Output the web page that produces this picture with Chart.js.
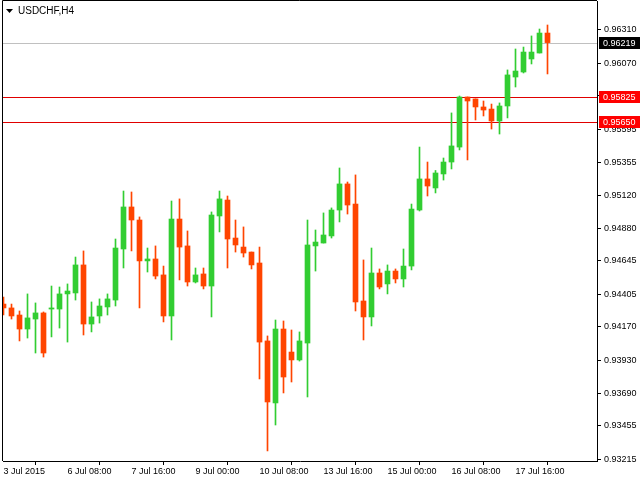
<!DOCTYPE html>
<html>
<head>
<meta charset="utf-8">
<script src="https://cdn.jsdelivr.net/npm/chart.js@4.4.0/dist/chart.umd.min.js"></script>
<style>
  html, body { margin: 0; padding: 0; background: #fff; }
</style>
</head>
<body>
<canvas id="chart" width="640" height="480"></canvas>
<script>
const symbolTitle = 'USDCHF,H4';

// H4 candles, oldest first
const opens = [
  0.94334, 0.94306, 0.94255, 0.94154, 0.94226, 0.94270, 0.94298, 0.94298, 0.94407, 0.94414,
  0.94616, 0.94190, 0.94248, 0.94313, 0.94363, 0.94731, 0.95034, 0.94940, 0.94645, 0.94659,
  0.94544, 0.94248, 0.94947, 0.94753, 0.94493, 0.94551, 0.94464, 0.94969, 0.95084, 0.94810,
  0.94745, 0.94709, 0.94630, 0.94068, 0.93621, 0.94154, 0.93988, 0.93931, 0.94053, 0.94753,
  0.94774, 0.94825, 0.95012, 0.95200, 0.95055, 0.94356, 0.94241, 0.94558, 0.94479, 0.94572,
  0.94515, 0.94608, 0.95012, 0.95236, 0.95171, 0.95272, 0.95358, 0.95466, 0.95827, 0.95813,
  0.95755, 0.95740, 0.95654, 0.95762, 0.95971, 0.96007, 0.96101, 0.96144, 0.96288
];
const highs = [
  0.94385, 0.94334, 0.94284, 0.94407, 0.94342, 0.94277, 0.94464, 0.94457, 0.94479, 0.94673,
  0.94717, 0.94349, 0.94371, 0.94407, 0.94803, 0.95149, 0.95142, 0.94962, 0.94738, 0.94753,
  0.94608, 0.95077, 0.95092, 0.94861, 0.94594, 0.94594, 0.94998, 0.95149, 0.95113, 0.94940,
  0.94890, 0.94709, 0.94745, 0.94104, 0.94219, 0.94212, 0.94147, 0.94133, 0.94940, 0.94868,
  0.94991, 0.95027, 0.95315, 0.95214, 0.95265, 0.94652, 0.94738, 0.94587, 0.94616, 0.94587,
  0.94731, 0.95055, 0.95466, 0.95358, 0.95297, 0.95387, 0.95712, 0.95834, 0.95827, 0.95813,
  0.95798, 0.95776, 0.95784, 0.96022, 0.96173, 0.96187, 0.96267, 0.96317, 0.96346
];
const lows = [
  0.94255, 0.94226, 0.94068, 0.94089, 0.93981, 0.93952, 0.94097, 0.94161, 0.94060, 0.94363,
  0.94111, 0.94133, 0.94197, 0.94255, 0.94320, 0.94594, 0.94717, 0.94306, 0.94565, 0.94515,
  0.94205, 0.94075, 0.94508, 0.94464, 0.94486, 0.94443, 0.94241, 0.94854, 0.94594, 0.94709,
  0.94673, 0.94587, 0.93794, 0.93275, 0.93462, 0.93693, 0.93772, 0.93923, 0.93664, 0.94572,
  0.94774, 0.94810, 0.94926, 0.94983, 0.94284, 0.94075, 0.94176, 0.94443, 0.94407, 0.94486,
  0.94457, 0.94580, 0.95005, 0.95113, 0.95135, 0.95228, 0.95308, 0.95445, 0.95373, 0.95661,
  0.95690, 0.95596, 0.95560, 0.95676, 0.95899, 0.96000, 0.96065, 0.96144, 0.95993
];
const closes = [
  0.94306, 0.94248, 0.94154, 0.94234, 0.94270, 0.93981, 0.94306, 0.94407, 0.94428, 0.94616,
  0.94190, 0.94241, 0.94320, 0.94371, 0.94738, 0.95034, 0.94940, 0.94645, 0.94659, 0.94536,
  0.94248, 0.94947, 0.94745, 0.94493, 0.94544, 0.94464, 0.94976, 0.95092, 0.94803, 0.94760,
  0.94702, 0.94616, 0.94060, 0.93628, 0.94154, 0.93808, 0.93931, 0.94068, 0.94760, 0.94781,
  0.94832, 0.95012, 0.95200, 0.95048, 0.94349, 0.94241, 0.94558, 0.94457, 0.94572, 0.94515,
  0.94608, 0.95019, 0.95236, 0.95185, 0.95279, 0.95358, 0.95474, 0.95827, 0.95798, 0.95755,
  0.95733, 0.95654, 0.95762, 0.95986, 0.96014, 0.96151, 0.96151, 0.96288, 0.96219
];

// one time label every 8 candles
const xTickLabels = ['3 Jul 2015', '6 Jul 08:00', '7 Jul 16:00', '9 Jul 00:00', '10 Jul 08:00',
  '13 Jul 16:00', '15 Jul 00:00', '16 Jul 08:00', '17 Jul 16:00'];
const xTickStep = 8;

const yTickValues = [0.96310, 0.96070, 0.95835, 0.95595, 0.95355, 0.95120, 0.94880,
  0.94645, 0.94405, 0.94170, 0.93930, 0.93690, 0.93455, 0.93215];

const bidPrice = 0.96219;
const levelPrices = [0.95825, 0.95650];

const bullColor = '#32cd32';
const bearColor = '#ff4500';
const fontFamily = "'Liberation Sans', Arial, sans-serif";

const candleColors = opens.map((o, i) => closes[i] >= o ? bullColor : bearColor);
const wickData = lows.map((l, i) => ({ x: i, y: [l, highs[i]] }));
const bodyData = opens.map((o, i) => ({ x: i, y: [o, closes[i]] }));

const overlay = {
  id: 'overlay',
  beforeDatasetsDraw(chart) {
    const { ctx, chartArea } = chart;
    const y = chart.scales.y;
    ctx.save();
    ctx.lineWidth = 1;
    const hline = (price, color) => {
      const py = Math.round(y.getPixelForValue(price)) + 0.5;
      ctx.strokeStyle = color;
      ctx.beginPath();
      ctx.moveTo(chartArea.left, py);
      ctx.lineTo(chartArea.right, py);
      ctx.stroke();
    };
    hline(bidPrice, '#c0c0c0');
    levelPrices.forEach(p => hline(p, '#e00000'));
    ctx.restore();
  },
  afterDraw(chart) {
    const { ctx, chartArea } = chart;
    const y = chart.scales.y;
    ctx.save();
    // frame, left and top
    ctx.strokeStyle = '#000';
    ctx.lineWidth = 1;
    ctx.beginPath();
    ctx.moveTo(chartArea.left - 0.5, chartArea.bottom);
    ctx.lineTo(chartArea.left - 0.5, 0.5);
    ctx.lineTo(chartArea.right, 0.5);
    ctx.stroke();

    // title
    ctx.fillStyle = '#000';
    ctx.beginPath();
    ctx.moveTo(6, 9);
    ctx.lineTo(13, 9);
    ctx.lineTo(9.5, 13);
    ctx.closePath();
    ctx.fill();
    ctx.font = '10px ' + fontFamily;
    ctx.textBaseline = 'middle';
    ctx.textAlign = 'left';
    ctx.fillText(symbolTitle, 18, 11);

    // price boxes on the axis
    const box = (price, bg) => {
      const py = Math.round(y.getPixelForValue(price));
      ctx.fillStyle = bg;
      ctx.fillRect(chartArea.right + 2, py - 6, 640 - chartArea.right - 2, 12);
      ctx.fillStyle = '#fff';
      ctx.font = '9px ' + fontFamily;
      ctx.fillText(price.toFixed(5), chartArea.right + 6, py + 0.5);
    };
    box(bidPrice, '#000');
    levelPrices.forEach(p => box(p, '#ff0000'));
    ctx.restore();
  }
};

new Chart(document.getElementById('chart'), {
  type: 'bar',
  data: {
    datasets: [
      {
        label: 'wick',
        data: wickData,
        backgroundColor: candleColors,
        barThickness: 1,
        grouped: false
      },
      {
        label: 'body',
        data: bodyData,
        backgroundColor: candleColors,
        barThickness: 5,
        minBarLength: 1,
        grouped: false
      }
    ]
  },
  options: {
    responsive: false,
    animation: false,
    layout: { padding: { left: 3, top: 1, right: 0, bottom: 0 } },
    plugins: {
      legend: { display: false },
      tooltip: { enabled: false }
    },
    scales: {
      x: {
        type: 'linear',
        offset: false,
        min: -0.0625,
        max: 74.1875,
        afterFit: s => {
          s.height = 19;
          s.paddingLeft = 0;
          s.paddingRight = 0;
        },
        afterBuildTicks: s => {
          s.ticks = xTickLabels.map((t, i) => ({ value: i * xTickStep }));
        },
        grid: { drawOnChartArea: false, tickLength: 4, color: '#000' },
        border: { display: true, color: '#000' },
        ticks: {
          autoSkip: false,
          maxRotation: 0,
          align: 'start',
          padding: 1,
          color: '#000',
          font: { family: fontFamily, size: 9 },
          callback: v => xTickLabels[Math.round(v / xTickStep)]
        }
      },
      y: {
        position: 'right',
        min: 0.932024,
        max: 0.96519,
        afterFit: s => {
          s.width = 43;
          s.paddingTop = 0;
          s.paddingBottom = 0;
        },
        afterBuildTicks: s => {
          s.ticks = yTickValues.map(v => ({ value: v }));
        },
        grid: { drawOnChartArea: false, tickLength: 4, color: '#000' },
        border: { display: true, color: '#000' },
        ticks: {
          autoSkip: false,
          padding: 3,
          color: '#000',
          font: { family: fontFamily, size: 9 },
          callback: v => v.toFixed(5)
        }
      }
    }
  },
  plugins: [overlay]
});
</script>
</body>
</html>
